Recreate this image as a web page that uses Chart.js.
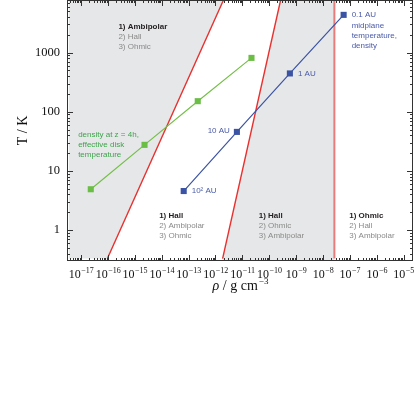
<!DOCTYPE html>
<html>
<head>
<meta charset="utf-8">
<script src="https://cdn.jsdelivr.net/npm/chart.js@4.4.1/dist/chart.umd.min.js"></script>
<style>
html, body { margin: 0; padding: 0; background: #fff; }
canvas { display: block; }
</style>
</head>
<body>
<canvas id="chart" width="416" height="416"></canvas>
<script>
// axis limits: density in g cm^-3, temperature in K
const rhoMin = 3.44e-18;
const rhoMax = 2.25e-5;
const tMin = 0.33;
const tMax = 7760;

const rhoDecades = [-17, -16, -15, -14, -13, -12, -11, -10, -9, -8, -7, -6, -5];
const tTicks = [1, 10, 100, 1000];

// density at z = 4h, effective disk temperature
const greenRho = [2.3e-17, 2.3e-15, 2.2e-13, 2.2e-11];
const greenT = [4.9, 27.6, 151, 815];

// midplane temperature and density
const blueRho = [6.6e-14, 6.3e-12, 5.9e-10, 5.9e-8];
const blueT = [4.57, 45.7, 445, 4350];
const blueLabels = ['10² AU', '10 AU', '1 AU', '0.1 AU'];

// boundaries between the dominant terms
const border1Rho = [9.55e-17, 2.0e-12];
const border1T = [0.33, 7760];
const border2Rho = [1.85e-12, 2.67e-10];
const border2T = [0.33, 7760];
const ohmicRho = 2.67e-8;

const regionText = [
    ['1) Ambipolar', '2) Hall', '3) Ohmic'],
    ['1) Hall', '2) Ambipolar', '3) Ohmic'],
    ['1) Hall', '2) Ohmic', '3) Ambipolar'],
    ['1) Ohmic', '2) Hall', '3) Ambipolar']
];
const greenText = ['density at z = 4h,', 'effective disk', 'temperature'];
const blueText = ['midplane', 'temperature,', 'density'];

const SANS = "'Liberation Sans', Arial, sans-serif";
const SERIF = "'Liberation Serif', 'Times New Roman', serif";
const GREY_FILL = '#e6e7e8';
const RED = '#e8302e';
const GREEN = '#74bf48';
const BLUE = '#3b53a4';

const toPoints = (xs, ys) => xs.map((v, i) => ({x: v, y: ys[i]}));

// inward ticks, frame, x tick labels, titles and annotations
const decorations = {
    id: 'decorations',
    afterDatasetsDraw(chart) {
        const {ctx, chartArea: a, scales: {x, y}} = chart;
        ctx.save();

        ctx.strokeStyle = '#333';
        ctx.lineWidth = 1;
        ctx.beginPath();
        for (let e = -18; e <= -4; e++) {
            for (let k = 1; k <= 9; k++) {
                const lv = e + Math.log10(k);
                if (lv < Math.log10(rhoMin) || lv > Math.log10(rhoMax)) continue;
                const px = Math.round(x.getPixelForValue(Math.pow(10, lv))) + 0.5;
                const len = k === 1 ? 6 : 3;
                ctx.moveTo(px, a.bottom); ctx.lineTo(px, a.bottom - len);
                ctx.moveTo(px, a.top); ctx.lineTo(px, a.top + len);
            }
        }
        for (let e = -1; e <= 4; e++) {
            for (let k = 1; k <= 9; k++) {
                const lv = e + Math.log10(k);
                if (lv < Math.log10(tMin) || lv > Math.log10(tMax)) continue;
                const py = Math.round(y.getPixelForValue(Math.pow(10, lv))) + 0.5;
                const len = k === 1 ? 6 : 3;
                ctx.moveTo(a.left, py); ctx.lineTo(a.left + len, py);
                ctx.moveTo(a.right, py); ctx.lineTo(a.right - len, py);
            }
        }
        ctx.stroke();
        ctx.strokeRect(a.left + 0.5, a.top + 0.5, a.right - a.left - 1, a.bottom - a.top - 1);

        // x tick labels as 10 with a raised exponent
        ctx.fillStyle = '#111';
        ctx.textBaseline = 'alphabetic';
        ctx.textAlign = 'left';
        rhoDecades.forEach(e => {
            const px = x.getPixelForValue(Math.pow(10, e));
            const exp = '\u2212' + (-e);
            ctx.font = '12px ' + SERIF;
            const w1 = ctx.measureText('10').width;
            ctx.font = '8px ' + SERIF;
            const w2 = ctx.measureText(exp).width;
            const x0 = px - (w1 + w2) / 2;
            ctx.font = '12px ' + SERIF;
            ctx.fillText('10', x0, a.bottom + 17);
            ctx.font = '8px ' + SERIF;
            ctx.fillText(exp, x0 + w1 + 0.5, a.bottom + 12);
        });

        // axis titles
        const t1 = ' / g cm';
        ctx.font = 'italic 14px ' + SERIF;
        const wr = ctx.measureText('ρ').width;
        ctx.font = '14px ' + SERIF;
        const wt = ctx.measureText(t1).width;
        ctx.font = '9px ' + SERIF;
        const we = ctx.measureText('\u22123').width;
        const tx = (a.left + a.right) / 2 - (wr + wt + we) / 2;
        const ty = a.bottom + 29;
        ctx.font = 'italic 14px ' + SERIF;
        ctx.fillText('ρ', tx, ty);
        ctx.font = '14px ' + SERIF;
        ctx.fillText(t1, tx + wr, ty);
        ctx.font = '9px ' + SERIF;
        ctx.fillText('\u22123', tx + wr + wt + 1, ty - 6);

        ctx.save();
        ctx.translate(a.left - 44, (a.top + a.bottom) / 2);
        ctx.rotate(-Math.PI / 2);
        ctx.textAlign = 'center';
        ctx.textBaseline = 'middle';
        ctx.font = '14px ' + SERIF;
        ctx.fillText('T / K', 0, 0);
        ctx.restore();

        // region annotations
        ctx.textBaseline = 'middle';
        ctx.textAlign = 'left';
        const anchors = [[2.45e-16, 2740], [8.07e-15, 1.73], [4.08e-11, 1.73], [9.57e-8, 1.73]];
        regionText.forEach((lines, i) => {
            const px = x.getPixelForValue(anchors[i][0]);
            const py = y.getPixelForValue(anchors[i][1]);
            lines.forEach((s, j) => {
                ctx.font = (j === 0 ? 'bold ' : '') + '8px ' + SANS;
                ctx.fillStyle = j === 0 ? '#231f20' : '#8a8a8a';
                ctx.fillText(s, px, py + j * 10);
            });
        });

        ctx.font = '8px ' + SANS;
        ctx.fillStyle = '#3fa34d';
        const gx = x.getPixelForValue(7.8e-18);
        const gy = y.getPixelForValue(40.2);
        greenText.forEach((s, j) => ctx.fillText(s, gx, gy + j * 10));

        ctx.fillStyle = '#4a5aa8';
        blueLabels.forEach((s, i) => {
            const px = x.getPixelForValue(blueRho[i]);
            const py = y.getPixelForValue(blueT[i]);
            if (s === '10 AU') {
                ctx.textAlign = 'right';
                ctx.fillText(s, px - 7, py - 1);
                ctx.textAlign = 'left';
            } else {
                ctx.fillText(s, px + 8, py);
            }
            if (i === blueLabels.length - 1) {
                blueText.forEach((t, j) => ctx.fillText(t, px + 8, py + 11 + j * 10));
            }
        });

        ctx.restore();
    }
};

new Chart(document.getElementById('chart'), {
    type: 'scatter',
    data: {
        datasets: [
            {
                data: toPoints(greenRho, greenT),
                showLine: true,
                borderColor: GREEN,
                borderWidth: 1.2,
                backgroundColor: '#6abd45',
                pointStyle: 'rect',
                pointRadius: 4.3,
                pointBorderWidth: 0,
                order: 1
            },
            {
                data: toPoints(blueRho, blueT),
                showLine: true,
                borderColor: BLUE,
                borderWidth: 1.2,
                backgroundColor: BLUE,
                pointStyle: 'rect',
                pointRadius: 4.3,
                pointBorderWidth: 0,
                order: 1
            },
            {
                data: toPoints(border1Rho, border1T),
                showLine: true,
                borderColor: RED,
                borderWidth: 1.4,
                pointRadius: 0,
                order: 2
            },
            {
                data: toPoints(border2Rho, border2T),
                showLine: true,
                borderColor: RED,
                borderWidth: 1.4,
                pointRadius: 0,
                order: 2
            },
            {
                data: [{x: ohmicRho, y: tMin}, {x: ohmicRho, y: tMax}],
                showLine: true,
                borderColor: '#ea7b7b',
                borderWidth: 2,
                pointRadius: 0,
                order: 2
            },
            {
                // Ambipolar-dominated region, left of the first boundary
                data: [{x: rhoMin, y: tMin}].concat(toPoints(border1Rho, border1T)),
                showLine: true,
                borderWidth: 0,
                borderColor: 'rgba(0,0,0,0)',
                backgroundColor: GREY_FILL,
                fill: 'end',
                pointRadius: 0,
                order: 3
            },
            {
                // Hall/Ohmic region between second boundary and Ohmic line
                data: toPoints(border2Rho, border2T).concat([{x: ohmicRho, y: tMax}]),
                showLine: true,
                borderWidth: 0,
                borderColor: 'rgba(0,0,0,0)',
                backgroundColor: GREY_FILL,
                fill: 'start',
                pointRadius: 0,
                order: 3
            }
        ]
    },
    options: {
        responsive: false,
        animation: false,
        layout: {autoPadding: false, padding: {top: 0, right: 3, left: 0, bottom: 0}},
        plugins: {
            legend: {display: false},
            tooltip: {enabled: false}
        },
        scales: {
            x: {
                type: 'logarithmic',
                min: rhoMin,
                max: rhoMax,
                grid: {display: false, drawTicks: false},
                border: {display: false},
                ticks: {display: false},
                afterFit: s => { s.height = 155; s.paddingLeft = 0; s.paddingRight = 0; }
            },
            y: {
                type: 'logarithmic',
                min: tMin,
                max: tMax,
                grid: {display: false, drawTicks: false},
                border: {display: false},
                ticks: {
                    color: '#111',
                    padding: 7,
                    font: {family: SERIF, size: 12.5},
                    callback: v => String(v)
                },
                afterBuildTicks: s => { s.ticks = tTicks.map(v => ({value: v})); },
                afterFit: s => { s.width = 67; s.paddingTop = 0; s.paddingBottom = 0; }
            }
        }
    },
    plugins: [decorations]
});
</script>
</body>
</html>
